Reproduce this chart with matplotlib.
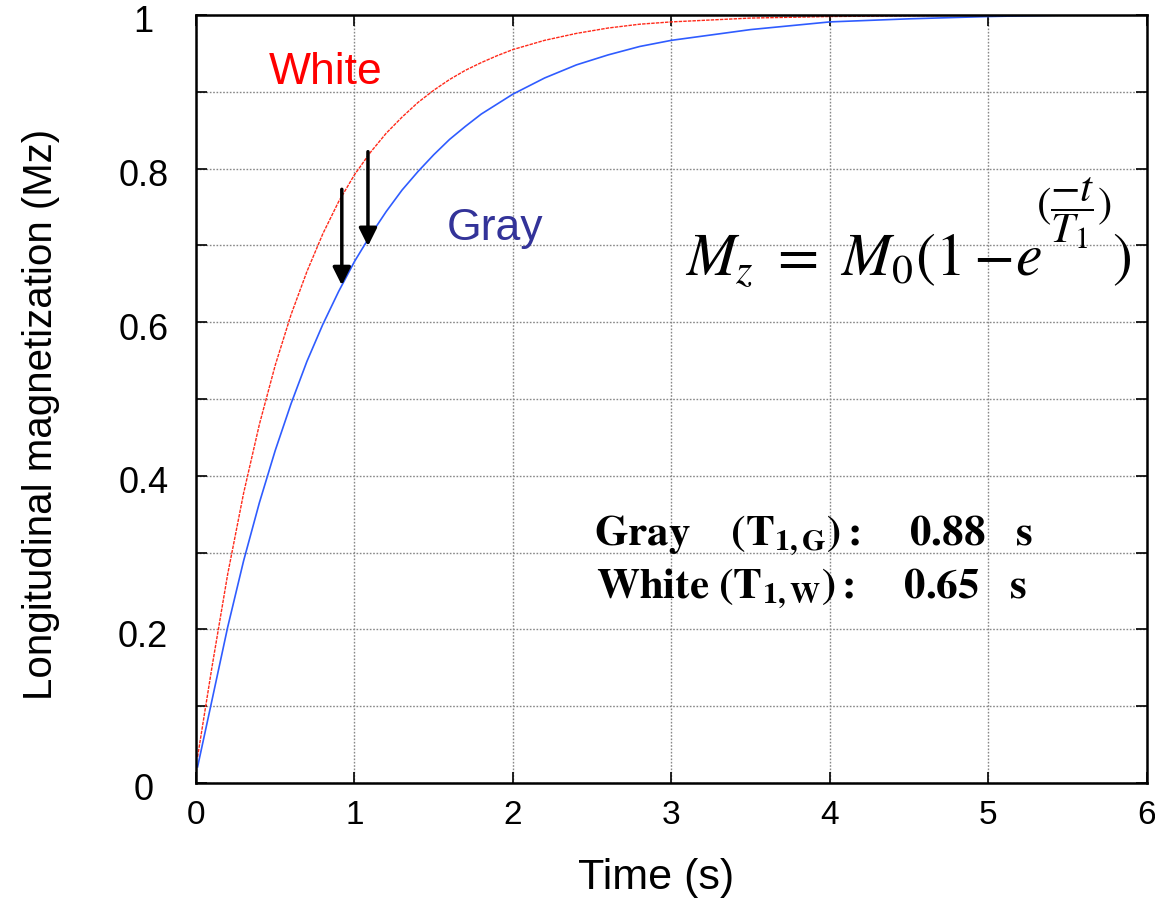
import matplotlib
matplotlib.use("Agg")
import matplotlib.pyplot as plt
import matplotlib.transforms as mtransforms
from matplotlib.ticker import MultipleLocator

# T1 recovery curves
time_s = [0.01, 0.1, 0.2, 0.3, 0.4, 0.5, 0.6, 0.7, 0.8, 0.9, 1.0,
          1.1, 1.2, 1.3, 1.4, 1.5, 1.6, 1.7, 1.8, 1.9, 2.0,
          2.2, 2.4, 2.6, 2.8, 3.0, 3.5, 4.0, 4.5, 5.0, 5.5, 6.0]
white_mz = [0.034, 0.150, 0.272, 0.377, 0.467, 0.544, 0.610, 0.666, 0.715, 0.757, 0.792,
            0.821, 0.846, 0.867, 0.886, 0.902, 0.916, 0.928, 0.938, 0.947, 0.955,
            0.967, 0.976, 0.983, 0.988, 0.991, 0.996, 0.998, 0.999, 1.0, 1.0, 1.0]
gray_mz = [0.021, 0.107, 0.203, 0.289, 0.365, 0.433, 0.494, 0.549, 0.597, 0.640, 0.679,
           0.713, 0.744, 0.772, 0.796, 0.818, 0.838, 0.855, 0.871, 0.884, 0.897,
           0.918, 0.935, 0.948, 0.959, 0.967, 0.981, 0.991, 0.995, 0.998, 1.0, 1.0]

# arrows: x position, tail and head values
arrow_t = [0.92, 1.085]
arrow_from = [0.773, 0.822]
arrow_to = [0.648, 0.699]

x_ticks = [0, 1, 2, 3, 4, 5, 6]
y_ticks = [0, 0.2, 0.4, 0.6, 0.8, 1.0]
y_tick_labels = ["0", "0.2", "0.4", "0.6", "0.8", "1"]

t1_lines = [r"$\mathbf{Gray\ \ \ \ (T_{1,G}):\ \ \ \ 0.88\ \ \ s}$",
            r"$\mathbf{White\ (T_{1,W}):\ \ \ \ 0.65\ \ \ s}$"]

plt.rcParams["font.family"] = ["Liberation Sans", "DejaVu Sans"]

fig = plt.figure(figsize=(11.55, 9.08), dpi=100)
ax = fig.add_axes([0.1697, 0.1377, 0.8233, 0.8458])

ax.plot(time_s, white_mz, color="#ff2a1a", lw=1.0, ls=(0, (2.5, 0.8)))
ax.plot(time_s, gray_mz, color="#2f5cff", lw=1.2)

for t, y0, y1 in zip(arrow_t, arrow_from, arrow_to):
    ax.annotate("", xy=(t, y1), xytext=(t, y0),
                arrowprops=dict(arrowstyle="-|>", color="black", lw=2.5,
                                mutation_scale=27, shrinkA=0, shrinkB=0))

ax.set_xlim(0, 6)
ax.set_ylim(0, 1)
ax.set_xticks(x_ticks)
ax.set_yticks(y_ticks, labels=y_tick_labels)
ax.yaxis.set_minor_locator(MultipleLocator(0.1))
ax.grid(True, which="both", color="#888888", ls=(0, (1.2, 1.2)), lw=1.0)
ax.tick_params(which="both", direction="in", top=True, right=True, length=8, width=1.2)
ax.tick_params(axis="x", labelsize=24, pad=12)
ax.tick_params(axis="y", labelsize=26, pad=38)
shift = mtransforms.ScaledTranslation(0, -4 / 100, fig.dpi_scale_trans)
for lab in ax.get_yticklabels():
    lab.set_horizontalalignment("center")
    lab.set_transform(lab.get_transform() + shift)
for sp in ax.spines.values():
    sp.set_linewidth(1.8)

ax.set_xlabel("Time (s)", fontsize=31)
ax.xaxis.set_label_coords(0.4837, -0.098)
ax.set_ylabel("Longitudinal magnetization (Mz)", fontsize=29)
ax.yaxis.set_label_coords(-0.143, 0.48)

ax.text(0.82, 0.925, "White", color="#ff0000", fontsize=32, ha="center", va="center")
ax.text(1.886, 0.722, "Gray", color="#333399", fontsize=32, ha="center", va="center")

# formula built in three pieces so the exponent sits high like the original
ax.text(3.085, 0.661, r"$M_z\ =\ M_0(1-\!e$", fontsize=43,
        math_fontfamily="stix", ha="left", va="baseline")
ax.text(5.30, 0.742, r"$(\dfrac{-t}{T_1})$", fontsize=31,
        math_fontfamily="stix", ha="left", va="center")
ax.text(5.78, 0.661, r"$)$", fontsize=43,
        math_fontfamily="stix", ha="left", va="baseline")

ax.text(2.513, 0.31, t1_lines[0], fontsize=31, math_fontfamily="stix", ha="left", va="baseline")
ax.text(2.525, 0.241, t1_lines[1], fontsize=31, math_fontfamily="stix", ha="left", va="baseline")

fig.savefig("out.png", dpi=100)
